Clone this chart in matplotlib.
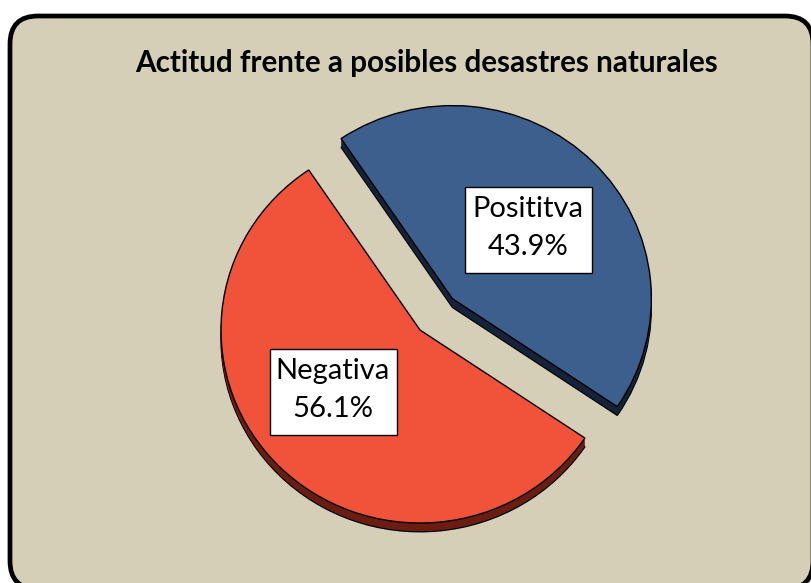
import matplotlib
matplotlib.use("Agg")
import matplotlib.pyplot as plt
from matplotlib.patches import FancyBboxPatch, Rectangle
from matplotlib.transforms import Affine2D
import numpy as np

# ---- data ----
categories = ["Posititva", "Negativa"]
values = [43.9, 56.1]
title = "Actitud frente a posibles desastres naturales"

top_colors = ["#3C5F8D", "#F0533A"]
side_colors = ["#14223A", "#6A1D10"]
bg_color = "#D5CFB7"

W, H = 811, 583
fig = plt.figure(figsize=(W / 100, H / 100), dpi=100)
fig.patch.set_facecolor("white")
ax = fig.add_axes([0, 0, 1, 1])
ax.axis("off")

# frame
frame = FancyBboxPatch((10, -6), 803, 573, boxstyle="round,pad=0,rounding_size=28",
                       facecolor=bg_color, edgecolor="black", linewidth=3.4, zorder=0)
ax.add_patch(frame)

ax.text(427, 583 - 63, title, ha="center", va="center", fontsize=21.3,
        fontweight="bold", family="Lato", color="black", zorder=5)

center = (420, 583 - 330)
radius = 199
explode = [0.23 * radius, 0.0]
start = 124
depth = 9
yscale = 0.97

pie_patches = []
# extruded sides
for d in np.linspace(depth, 0.5, 12):
    last = d == depth
    w, _ = ax.pie(values, colors=side_colors, startangle=start, counterclock=False,
                  explode=explode, radius=radius, center=(center[0], center[1] - d),
                  wedgeprops=dict(edgecolor="black" if last else "none",
                                  linewidth=1.0, zorder=1))
    pie_patches += w

wedges, texts = ax.pie(values, colors=top_colors, startangle=start,
                       counterclock=False, explode=explode, radius=radius,
                       center=center, labels=None,
                       wedgeprops=dict(edgecolor="black", linewidth=1.0, zorder=2))
pie_patches += wedges

squash = (Affine2D().translate(-center[0], -center[1]).scale(1, yscale)
          .translate(center[0], center[1]))
for p in pie_patches:
    p.set_transform(squash + ax.transData)

# labels
total = sum(values)
label_pos = [(528, 583 - 230), (333, 583 - 392)]
box_w, box_h = 127, 86
for cat, v, pos in zip(categories, values, label_pos):
    ax.add_patch(Rectangle((pos[0] - box_w / 2, pos[1] - box_h / 2), box_w, box_h,
                           facecolor="white", edgecolor="black", linewidth=1.0,
                           zorder=6))
    ax.text(pos[0], pos[1] + 2, f"{cat}\n{v / total * 100:.1f}%", ha="center",
            va="center", fontsize=21, family="Lato", linespacing=1.55,
            zorder=7)

ax.set_xlim(0, W)
ax.set_ylim(0, H)
ax.set_aspect("auto")
fig.savefig("out.png", dpi=100, facecolor="white")
